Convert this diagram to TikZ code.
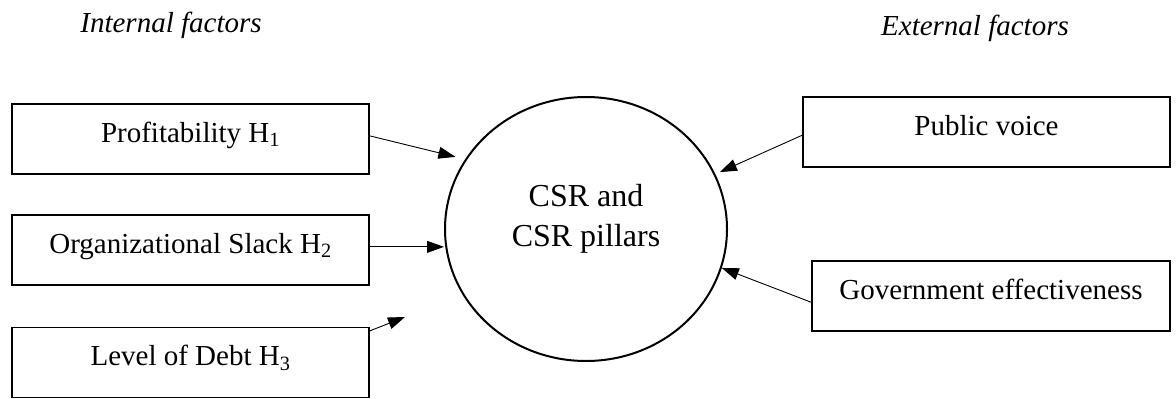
\documentclass[tikz,border=0pt]{standalone}
\usepackage{fontspec}
\setmainfont{Liberation Serif}
\usetikzlibrary{arrows.meta,shapes.geometric}
\tikzset{
	factor/.style={
			draw, line width=1.6pt, minimum width=357pt, minimum height=70pt,
			text height=20pt, text depth=14pt, inner sep=0pt,
			font=\fontsize{29}{35}\selectfont
		},
	heading/.style={anchor=base, font=\fontsize{29}{35}\selectfont\itshape},
	arr/.style={-{Triangle[length=17pt,width=12pt]}, line width=0.9pt}
}

\begin{document}
\begin{tikzpicture}[x=1pt,y=-1pt]
        \useasboundingbox (0,0) rectangle (1176,399);
        % Ueberschriften
        \node[heading] (intern) at (171,32) {Internal factors};
        \node[heading] (extern) at (975,35) {External factors};
        % Kasten links
        \node[factor] (profit) at (190.5,139) {Profitability H\textsubscript{1}};
        \node[factor] (slack) at (190.5,250) {Organizational Slack H\textsubscript{2}};
        \node[factor] (debt) at (190.5,362.5) {Level of Debt H\textsubscript{3}};
        % Kasten rechts
        \node[factor, minimum width=367pt] (voice) at (986.5,132) {Public voice};
        \node[factor, minimum width=358pt] (govt) at (991,296) {Government effectiveness};
        % Ellipse in der Mitte
        \node[draw, ellipse, line width=2pt, minimum width=282pt, minimum height=264pt,
              label={[align=center, yshift=10pt, font=\fontsize{32}{40}\selectfont]center:CSR and\\CSR pillars}]
              (csr) at (586,229) {};
        \coordinate (debtend) at (405,317);
        % Pfeile
        \draw[arr, shorten >=10pt] (profit.1.3) -- (csr.150);
        \draw[arr] (slack.1.6) -- (slack.1.6 -| csr.west);
        \draw[arr] (debt.10) -- (debtend);
        \draw[arr, shorten >=5pt] (voice.181) -- (csr.23);
        \draw[arr] (govt.182) -- (csr.-16);
    \end{tikzpicture}
\end{document}
